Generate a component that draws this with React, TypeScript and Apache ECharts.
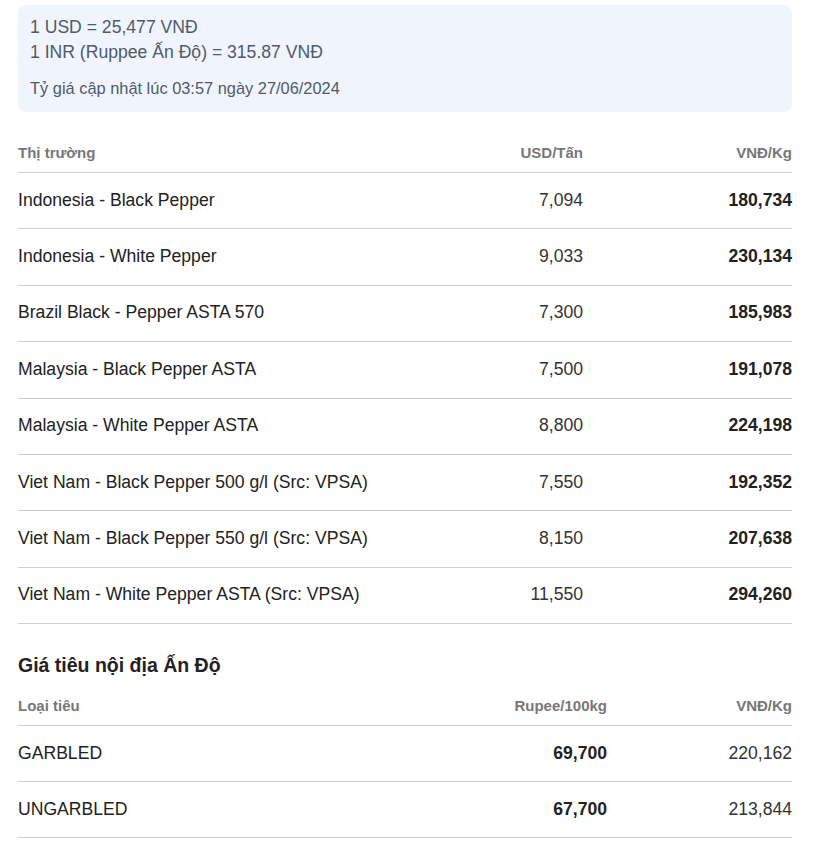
import React, { useEffect, useRef } from "react";
import * as echarts from "echarts";

const rateLines = ["1 USD = 25,477 VNĐ", "1 INR (Ruppee Ấn Độ) = 315.87 VNĐ"];
const updateNote = "Tỷ giá cập nhật lúc 03:57 ngày 27/06/2024";

const headers1 = ["Thị trường", "USD/Tấn", "VNĐ/Kg"];
const markets = [
  "Indonesia - Black Pepper",
  "Indonesia - White Pepper",
  "Brazil Black - Pepper ASTA 570",
  "Malaysia - Black Pepper ASTA",
  "Malaysia - White Pepper ASTA",
  "Viet Nam - Black Pepper 500 g/l (Src: VPSA)",
  "Viet Nam - Black Pepper 550 g/l (Src: VPSA)",
  "Viet Nam - White Pepper ASTA (Src: VPSA)",
];
const usdPerTon = [7094, 9033, 7300, 7500, 8800, 7550, 8150, 11550];
const vndPerKg = [180734, 230134, 185983, 191078, 224198, 192352, 207638, 294260];

const title2 = "Giá tiêu nội địa Ấn Độ";
const headers2 = ["Loại tiêu", "Rupee/100kg", "VNĐ/Kg"];
const indiaTypes = ["GARBLED", "UNGARBLED"];
const rupeePer100kg = [69700, 67700];
const indiaVndPerKg = [220162, 213844];

const fmt = (v: number) => v.toLocaleString("en-US");
const FONT = "Liberation Sans, Arial, sans-serif";

export default function App() {
  const ref = useRef<HTMLDivElement>(null);
  useEffect(() => {
    if (!ref.current) return;
    const chart = echarts.init(ref.current, null, { renderer: "svg" });
    const els: any[] = [];
    const txt = (x: number, y: number, text: string, o: any = {}) =>
      els.push({
        type: "text",
        x,
        y: y - 1,
        style: {
          text,
          fontFamily: FONT,
          fontSize: o.size ?? 17.6,
          fontWeight: o.weight ?? "normal",
          fill: o.color ?? "#222",
          textAlign: o.align ?? "left",
          textVerticalAlign: "middle",
        },
      });
    const hline = (y: number) =>
      els.push({
        type: "line",
        shape: { x1: 18, y1: y, x2: 792, y2: y },
        style: { stroke: "#d0d0d0", lineWidth: 1 },
      });

    // Rate box
    els.push({
      type: "rect",
      shape: { x: 18, y: 5, width: 774, height: 107, r: 8 },
      style: { fill: "#f0f5fd" },
    });
    txt(30, 28, rateLines[0], { color: "#4f5a6b" });
    txt(30, 53, rateLines[1], { color: "#4f5a6b" });
    txt(30, 89, updateNote, { color: "#4f5a6b", size: 16.4 });

    // Table 1
    const c2 = 583, c3 = 792;
    const hs = 15;
    txt(18, 153, headers1[0], { size: hs, weight: "bold", color: "#777" });
    txt(c2, 153, headers1[1], { size: hs, weight: "bold", color: "#777", align: "right" });
    txt(c3, 153, headers1[2], { size: hs, weight: "bold", color: "#777", align: "right" });
    const top1 = 172.5, rh = 56.375;
    hline(top1);
    markets.forEach((m, i) => {
      const cy = top1 + rh * i + rh / 2;
      txt(18, cy, m);
      txt(c2, cy, fmt(usdPerTon[i]), { color: "#333", align: "right" });
      txt(c3, cy, fmt(vndPerKg[i]), { weight: "bold", align: "right" });
      hline(Math.round(top1 + rh * (i + 1) - 0.5) + 0.5);
    });

    // Table 2
    txt(18, 666, title2, { size: 19.5, weight: "bold" });
    const d2 = 607;
    txt(18, 706, headers2[0], { size: hs, weight: "bold", color: "#777" });
    txt(d2, 706, headers2[1], { size: hs, weight: "bold", color: "#777", align: "right" });
    txt(c3, 706, headers2[2], { size: hs, weight: "bold", color: "#777", align: "right" });
    const top2 = 725.5;
    hline(top2);
    indiaTypes.forEach((t, i) => {
      const cy = top2 + rh * i + rh / 2;
      txt(18, cy, t);
      txt(d2, cy, fmt(rupeePer100kg[i]), { weight: "bold", align: "right" });
      txt(c3, cy, fmt(indiaVndPerKg[i]), { color: "#333", align: "right" });
      hline(Math.round(top2 + rh * (i + 1) - 1) + 0.5);
    });

    chart.setOption({ animation: false, graphic: { elements: els } });
    return () => chart.dispose();
  }, []);
  return (
    <div
      ref={ref}
      style={{ position: "absolute", left: 0, top: 0, width: 819, height: 843, background: "#fff" }}
    />
  );
}
